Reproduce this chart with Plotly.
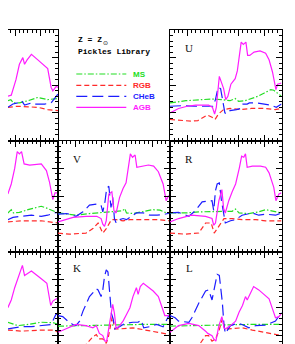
import plotly.graph_objects as go

W, H = 295, 344

# x: age axis in minor-tick units (0..26), y: fractional contribution (0..1)
# ---- top-left (partially visible) panel
A0_MS = [(14.3,.36),(15,.37),(15.6,.34),(17,.34),(19,.36),(21.3,.39),(23.6,.37),(26,.38)]
A0_RGB = [(14.3,.30),(16.6,.31),(19,.305),(21.3,.30),(23.6,.28),(26,.27)]
A0_CHeB = [(14.3,.30),(15.5,.33),(16.6,.34),(17.5,.36),(18.2,.32),(19.8,.34),(20.5,.33),(22.9,.33),(24.4,.34),(25.2,.38),(26,.42)]
A0_AGB = [(14.3,.40),(15.1,.41),(16.2,.55),(17,.69),(17.8,.75),(18.2,.69),(18.8,.73),(19.8,.78),(21.3,.73),(22.9,.67),(23.6,.65),(24.4,.48),(24.8,.45),(25.6,.49),(26,.48)]
# ---- middle-left panel
A1_MS = [(14.3,.35),(15.1,.38),(15.6,.35),(17,.355),(19,.38),(22.1,.41),(23.6,.39),(25.2,.36),(26,.35)]
A1_RGB = [(14.3,.27),(17.4,.28),(22.1,.28),(24.4,.27),(26,.26)]
A1_CHeB = [(14.3,.29),(15.5,.31),(17.4,.32),(19.8,.33),(22.1,.32),(23.6,.33),(25.2,.35),(26,.355)]
A1_AGB = [(14.3,.52),(15.1,.61),(15.9,.75),(16.5,.90),(17,.88),(17.5,.90),(18.1,.79),(19.4,.78),(22.1,.79),(23.3,.73),(24,.63),(24.8,.47),(25.3,.53),(26,.53)]
# ---- bottom-left panel
A2_MS = [(14.3,.37),(15,.36),(16.6,.34),(19,.35),(22.1,.37),(25,.365),(26,.35)]
A2_RGB = [(14.3,.30),(17.4,.29),(22.1,.30),(25,.30),(26,.28)]
A2_CHeB = [(14.3,.31),(16,.32),(17.4,.33),(19.8,.33),(22.1,.34),(24.4,.35),(25.5,.44),(26,.44)]
A2_AGB = [(14.3,.50),(15.1,.57),(15.9,.68),(17,.80),(17.7,.88),(18.2,.79),(19,.81),(19.8,.83),(22.1,.76),(23.4,.72),(24.3,.52),(24.8,.56),(25.6,.58),(26,.58)]
# ---- U
U_MS = [(0,.34),(3.7,.36),(7.5,.37),(10,.375),(12,.37),(14,.36),(15.2,.38),(16,.355),(17.5,.36),(19,.38),(20.5,.40),(22,.43),(23.5,.46),(24.2,.455),(25,.43),(26,.40)]
U_RGB = [(0,.19),(2.5,.18),(5,.175),(6.5,.18),(8.7,.23),(9.8,.21),(10.5,.19),(11.3,.24),(12.5,.28),(14,.29),(16.5,.28),(19,.29),(22,.29),(24.5,.28),(26,.29)]
U_CHeB = [(0,.31),(3,.315),(6,.31),(9,.31),(10,.31),(10.6,.37),(11.2,.48),(11.8,.47),(12.2,.38),(12.8,.25),(13.2,.24),(14,.27),(15.5,.28),(16.5,.29),(17,.33),(18,.33),(18.5,.34),(20,.34),(22,.33),(23.5,.32),(24.8,.30),(26,.33)]
U_AGB = [(0,.25),(2,.29),(4,.31),(6,.32),(9,.32),(9.9,.30),(10.4,.24),(10.8,.30),(11.5,.58),(12,.53),(12.5,.47),(13,.37),(13.5,.40),(14.2,.51),(15.2,.56),(15.7,.63),(16.1,.74),(16.6,.89),(17.1,.87),(17.7,.89),(18.1,.77),(18.6,.77),(19.6,.80),(21,.81),(22.3,.79),(23.1,.73),(23.9,.62),(24.7,.46),(25.1,.51),(26,.52)]
# ---- V
V_MS = [(0,.35),(2,.34),(4.2,.33),(7.3,.345),(11.2,.36),(15,.37),(15.5,.39),(15.9,.35),(17.4,.345),(19.8,.36),(22,.38),(23.7,.375),(25.2,.35),(26,.345)]
V_RGB = [(0,.17),(2.6,.16),(6.5,.17),(8.1,.21),(9.3,.26),(10.4,.17),(11.2,.21),(12.4,.29),(13.5,.29),(15.1,.28),(16.7,.29),(19.8,.29),(23,.29),(26,.28)]
V_CHeB = [(0,.34),(2,.345),(4.2,.32),(5.8,.36),(7.3,.42),(8.9,.43),(10,.42),(10.4,.36),(10.9,.45),(11.3,.57),(11.8,.59),(12.3,.40),(12.7,.49),(13.1,.30),(13.5,.26),(14.3,.29),(15.1,.30),(15.9,.29),(17.4,.33),(18.2,.35),(19.8,.35),(21.3,.33),(23,.33),(24.4,.335),(26,.35)]
V_AGB = [(0,.27),(3.5,.31),(6.5,.32),(9,.32),(10,.30),(10.4,.25),(10.8,.23),(11.2,.28),(11.8,.52),(12.5,.54),(13,.37),(13.5,.35),(14.3,.49),(15.1,.57),(15.8,.62),(16.3,.76),(16.8,.88),(17.3,.85),(17.9,.87),(18.3,.76),(19.5,.77),(21,.78),(22.2,.77),(23.3,.72),(24.4,.61),(25.1,.46),(25.6,.50),(26,.51)]
# ---- R
R_MS = [(0,.35),(3.6,.35),(6.7,.36),(10.6,.36),(14.5,.365),(15.3,.385),(16.1,.35),(18.4,.345),(20.7,.36),(22.3,.38),(23.9,.37),(26,.35)]
R_RGB = [(0,.17),(3.6,.16),(6.7,.17),(8.3,.26),(9.6,.26),(10.3,.17),(11.2,.22),(12.6,.30),(14.5,.30),(16.8,.29),(20,.29),(22.3,.28),(26,.28)]
R_CHeB = [(0,.35),(2,.355),(4.4,.32),(5.9,.37),(7.5,.45),(9,.46),(9.8,.46),(10.2,.37),(10.6,.55),(11,.61),(11.5,.62),(12,.46),(12.6,.32),(12.9,.26),(14.1,.28),(15.3,.29),(16.8,.33),(18.4,.34),(19.2,.35),(20.7,.33),(22.3,.34),(24.6,.33),(26,.35)]
R_AGB = [(0,.27),(2,.30),(5,.33),(8.3,.32),(9.8,.30),(10.2,.24),(10.6,.26),(11.4,.46),(12.1,.56),(12.5,.39),(12.9,.35),(13.7,.46),(14.5,.54),(15.3,.61),(16.2,.76),(16.7,.86),(17.2,.85),(17.6,.88),(18,.76),(19.2,.77),(21.1,.77),(22.3,.76),(23.1,.71),(24.2,.58),(24.7,.46),(25.4,.52),(26,.53)]
# ---- K
K_MS = [(0,.335),(5,.34),(10,.345),(14,.35),(19,.35),(23,.35),(26,.35)]
K_RGB = [(0,.17),(2.6,.16),(6.5,.17),(8.1,.24),(8.9,.26),(9.5,.22),(10.4,.22),(11.2,.18),(11.7,.24),(12.6,.42),(13.2,.31),(14.3,.31),(17.4,.32),(20.5,.30),(23,.28),(26,.26)]
K_CHeB = [(0,.43),(1.1,.42),(2.3,.38),(3.4,.35),(4.2,.34),(5,.38),(5.8,.47),(7.3,.60),(8.9,.67),(9.3,.66),(10,.60),(10.4,.66),(10.8,.78),(11.2,.84),(11.6,.82),(12,.63),(12.4,.45),(12.8,.40),(13.2,.31),(13.6,.32),(14.3,.33),(15.1,.35),(15.9,.36),(17.4,.37),(18.6,.37),(19.3,.39),(19.9,.32),(21.3,.33),(22.9,.35),(24.4,.33),(25.6,.43),(26,.45)]
K_AGB = [(0,.28),(2,.31),(4.2,.35),(6.5,.34),(8.1,.32),(8.9,.34),(9.6,.27),(10.4,.25),(10.9,.20),(11.3,.20),(11.7,.30),(12.1,.42),(12.7,.53),(13.1,.45),(13.5,.31),(14.3,.34),(15.1,.38),(15.9,.44),(16.7,.50),(17.4,.60),(18.2,.68),(18.6,.62),(19.1,.69),(19.8,.72),(20.9,.69),(22.1,.65),(23.3,.60),(24,.51),(24.8,.43),(25.6,.43),(26,.43)]
# ---- L
L_MS = [(0,.335),(6,.34),(12,.35),(18,.35),(22,.35),(26,.35)]
L_RGB = [(0,.17),(3.6,.16),(6.7,.16),(8.3,.25),(9,.25),(9.8,.20),(10.6,.22),(11.4,.29),(12.2,.40),(12.8,.31),(13.7,.31),(16.8,.32),(19.2,.30),(22.3,.28),(26,.25)]
L_CHeB = [(0,.43),(1.2,.41),(2,.38),(3.6,.37),(4.4,.37),(5.1,.41),(6.7,.54),(8.3,.65),(9,.66),(9.8,.57),(10.2,.65),(10.6,.75),(11,.80),(11.5,.79),(12.2,.55),(12.6,.34),(12.9,.27),(14.1,.34),(14.9,.35),(15.7,.36),(16.8,.35),(18.4,.32),(20,.34),(22.3,.345),(24.6,.38),(26,.46)]
L_AGB = [(0,.28),(2,.34),(4.4,.36),(6.7,.34),(8.3,.29),(8.8,.27),(9.8,.25),(10.2,.22),(10.7,.20),(11.4,.34),(12.1,.42),(12.6,.32),(12.9,.31),(14.1,.34),(15.3,.38),(16.1,.46),(16.9,.52),(17.6,.60),(18,.57),(18.8,.64),(19.5,.69),(20.7,.66),(21.9,.62),(23.1,.58),(23.9,.49),(24.6,.41),(25.4,.42),(26,.45)]

PHASES = ["MS", "RGB", "CHeB", "AGB"]
COLORS = {"MS": "#22dd22", "RGB": "#ff2a2a", "CHeB": "#1c1cff", "AGB": "#ff1cff"}
DASH = {"MS": "6px,2px,1.5px,2px", "RGB": "5px,3px", "CHeB": "11px,5px", "AGB": "solid"}

# panel: (label, col, row, curves)
PANELS = [
    ("", 0, 0, [A0_MS, A0_RGB, A0_CHeB, A0_AGB]),
    ("", 0, 1, [A1_MS, A1_RGB, A1_CHeB, A1_AGB]),
    ("", 0, 2, [A2_MS, A2_RGB, A2_CHeB, A2_AGB]),
    ("U", 2, 0, [U_MS, U_RGB, U_CHeB, U_AGB]),
    ("V", 1, 1, [V_MS, V_RGB, V_CHeB, V_AGB]),
    ("R", 2, 1, [R_MS, R_RGB, R_CHeB, R_AGB]),
    ("K", 1, 2, [K_MS, K_RGB, K_CHeB, K_AGB]),
    ("L", 2, 2, [L_MS, L_RGB, L_CHeB, L_AGB]),
]

COLX = [(0, 50), (50, 162), (162, 273.5)]
ROWY = [(22, 132.5), (132.5, 244), (244, 344)]
PANEL_W = 111.5
PANEL_H = 111.5

fig = go.Figure()
layout = dict(width=W, height=H, margin=dict(l=0, r=0, t=0, b=0),
              paper_bgcolor="white", plot_bgcolor="white", showlegend=False)
annotations = []
shapes = []

for i, (label, col, row, curves) in enumerate(PANELS, start=1):
    xa = "x" if i == 1 else f"x{i}"
    ya = "y" if i == 1 else f"y{i}"
    x0, x1 = COLX[col]
    y0, y1 = ROWY[row]
    if col == 0:
        xr = [26 - (x1 - x0) / PANEL_W * 26, 26]
    else:
        xr = [0, 26]
    if row == 2:
        yr = [1 - (y1 - y0) / PANEL_H, 1]
    else:
        yr = [0, 1]
    xaxis = dict(domain=[x0 / W, x1 / W], range=xr, anchor=ya,
                 showgrid=False, zeroline=False, showticklabels=False,
                 showline=True, linecolor="black", linewidth=1,
                 ticks="inside", ticklen=6, tickcolor="black", tickwidth=1,
                 tick0=4, dtick=6,
                 minor=dict(ticks="inside", ticklen=3, dtick=1, tick0=0,
                            tickcolor="black", tickwidth=1, showgrid=False))
    if row == 2:
        xaxis.update(side="top", mirror=False)
    else:
        xaxis.update(mirror="ticks")
    yaxis = dict(domain=[1 - y1 / H, 1 - y0 / H], range=yr, anchor=xa,
                 showgrid=False, zeroline=False, showticklabels=False,
                 showline=True, linecolor="black", linewidth=1,
                 ticks="inside", ticklen=6, tickcolor="black", tickwidth=1,
                 dtick=0.25, tick0=0,
                 minor=dict(ticks="inside", ticklen=3, dtick=0.05, tick0=0,
                            tickcolor="black", tickwidth=1, showgrid=False))
    if col == 0:
        yaxis.update(side="right", mirror=False)
    else:
        yaxis.update(mirror="ticks")
    layout["xaxis" if i == 1 else f"xaxis{i}"] = xaxis
    layout["yaxis" if i == 1 else f"yaxis{i}"] = yaxis

    for ph, pts in zip(PHASES, curves):
        fig.add_trace(go.Scatter(
            x=[p[0] for p in pts], y=[p[1] for p in pts], mode="lines",
            xaxis=xa, yaxis=ya, name=ph, cliponaxis=True,
            line=dict(color=COLORS[ph], width=1.2, dash=DASH[ph])))
    if label:
        annotations.append(dict(text=label, xref=f"{xa} domain", yref=f"{ya} domain",
                                x=19 / PANEL_W, y=1 - 18 / PANEL_H,
                                xanchor="center", yanchor="middle", showarrow=False,
                                font=dict(family="Liberation Serif", size=11, color="#111")))

# header texts
annotations.append(dict(text="<b>Z = Z</b>", xref="paper", yref="paper",
                        x=68 / W, y=1 - 32 / H, xanchor="left", yanchor="middle",
                        showarrow=False,
                        font=dict(family="Liberation Mono", size=8, color="black")))
annotations.append(dict(text="⊙", xref="paper", yref="paper",
                        x=92.5 / W, y=1 - 34.5 / H, xanchor="left", yanchor="middle",
                        showarrow=False,
                        font=dict(family="DejaVu Sans", size=6, color="black")))
annotations.append(dict(text="<b>Pickles Library</b>", xref="paper", yref="paper",
                        x=67.5 / W, y=1 - 43.7 / H, xanchor="left", yanchor="middle",
                        showarrow=False,
                        font=dict(family="Liberation Mono", size=8, color="black")))
# legend
LEG_Y = [66, 77.3, 88.3, 99.3]
for ph, ly in zip(PHASES, LEG_Y):
    shapes.append(dict(type="line", xref="paper", yref="paper",
                       x0=68.3 / W, x1=118.3 / W, y0=1 - ly / H, y1=1 - ly / H,
                       line=dict(color=COLORS[ph], width=1.2, dash=DASH[ph])))
    annotations.append(dict(text=f"<b>{ph}</b>", xref="paper", yref="paper",
                            x=122.5 / W, y=1 - ly / H, xanchor="left", yanchor="middle",
                            showarrow=False,
                            font=dict(family="Liberation Sans", size=8, color=COLORS[ph])))

layout["annotations"] = annotations
layout["shapes"] = shapes
fig.update_layout(**layout)
fig.write_html("out.html")
